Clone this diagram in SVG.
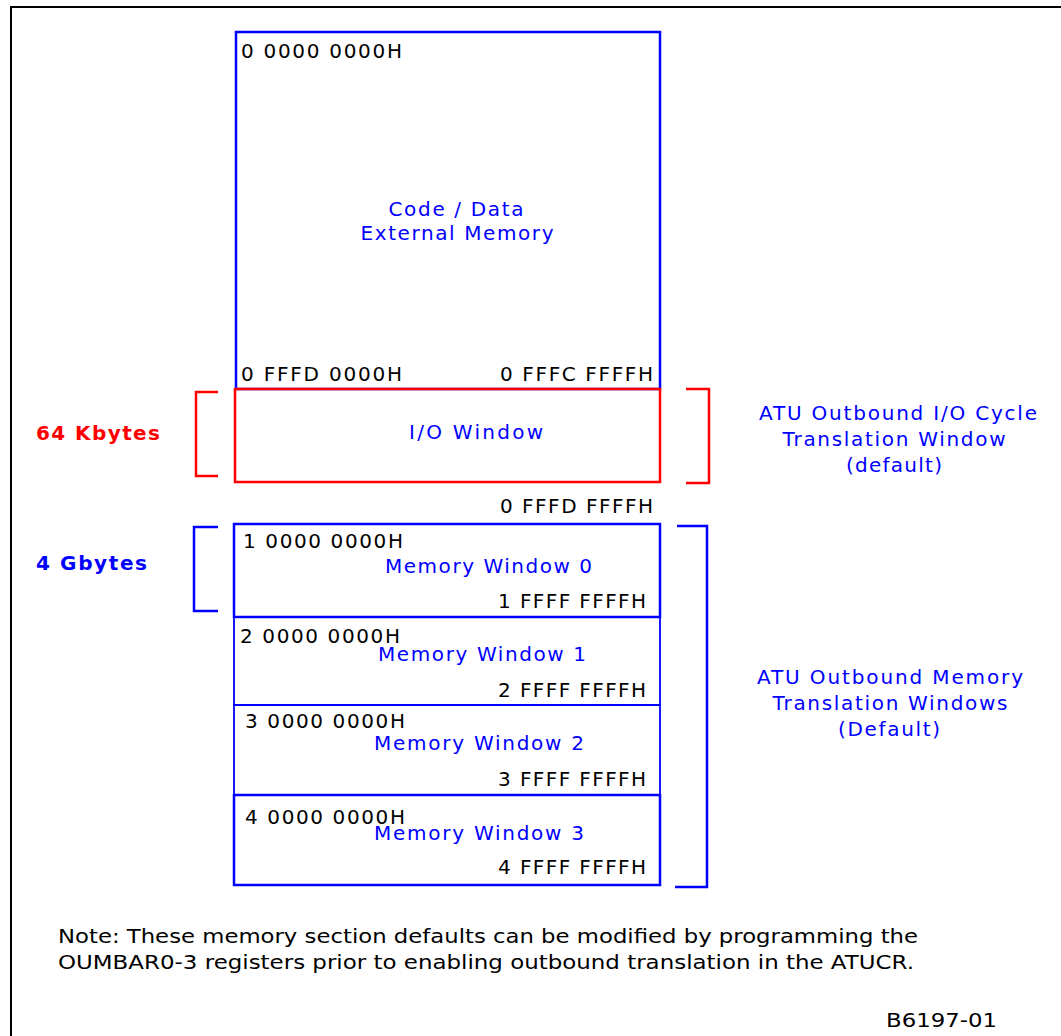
<svg xmlns="http://www.w3.org/2000/svg" width="1061" height="1036" viewBox="0 0 1061 1036">
<style>
text{font-family:"DejaVu Sans",Verdana,sans-serif;font-size:20px}
.k{fill:#000}
.b{fill:#0000ff}
.r{fill:#ff0000}
.bold{font-weight:bold}
.m{text-anchor:middle}
.e{text-anchor:end}
.bs{fill:none;stroke:#0000ff;stroke-width:2.5}
.rs{fill:none;stroke:#ff0000;stroke-width:2.5}
.bt{fill:none;stroke:#0000ff;stroke-width:1.8}
</style>
<rect x="11" y="7" width="1100" height="1100" fill="#fff" stroke="#000" stroke-width="2"/>
<g id="code-data">
<rect class="bs" x="236" y="32" width="424" height="357"/>
<text class="k" x="241" y="58" textLength="161" lengthAdjust="spacing">0 0000 0000H</text>
<text class="b m" x="456" y="216" textLength="135" lengthAdjust="spacing">Code / Data</text>
<text class="b m" x="457" y="240" textLength="193" lengthAdjust="spacing">External Memory</text>
<text class="k" x="241" y="381" textLength="161" lengthAdjust="spacing">0 FFFD 0000H</text>
<text class="k e" x="653" y="381" textLength="153" lengthAdjust="spacing">0 FFFC FFFFH</text>
</g>
<g id="io-window">
<rect class="rs" x="235" y="389" width="425" height="93"/>
<text class="b m" x="476" y="439" textLength="134" lengthAdjust="spacing">I/O Window</text>
<text class="k e" x="653" y="513" textLength="153" lengthAdjust="spacing">0 FFFD FFFFH</text>
</g>
<g id="label-64k">
<text class="r bold" x="36" y="440" textLength="124" lengthAdjust="spacing">64 Kbytes</text>
</g>
<g id="label-io-atu">
<text class="b m" x="898" y="420" textLength="278" lengthAdjust="spacing">ATU Outbound I/O Cycle</text>
<text class="b m" x="894" y="446" textLength="223" lengthAdjust="spacing">Translation Window</text>
<text class="b m" x="894" y="472" textLength="96" lengthAdjust="spacing">(default)</text>
</g>
<g id="mem-window-0">
<rect class="bs" x="234" y="524" width="426" height="93"/>
<text class="k" x="243" y="548" textLength="160" lengthAdjust="spacing">1 0000 0000H</text>
<text class="b" x="385" y="573" textLength="207" lengthAdjust="spacing">Memory Window 0</text>
<text class="k e" x="646" y="608" textLength="148" lengthAdjust="spacing">1 FFFF FFFFH</text>
</g>
<g id="mem-window-1">
<rect class="bt" x="234" y="617" width="426" height="88"/>
<text class="k" x="240" y="643" textLength="160" lengthAdjust="spacing">2 0000 0000H</text>
<text class="b" x="378" y="661" textLength="208" lengthAdjust="spacing">Memory Window 1</text>
<text class="k e" x="646" y="697" textLength="148" lengthAdjust="spacing">2 FFFF FFFFH</text>
</g>
<g id="mem-window-2">
<rect class="bt" x="234" y="705" width="426" height="90"/>
<text class="k" x="245" y="728" textLength="160" lengthAdjust="spacing">3 0000 0000H</text>
<text class="b" x="374" y="750" textLength="210" lengthAdjust="spacing">Memory Window 2</text>
<text class="k e" x="646" y="786" textLength="148" lengthAdjust="spacing">3 FFFF FFFFH</text>
</g>
<g id="mem-window-3">
<rect class="bs" x="234" y="795" width="426" height="90"/>
<text class="k" x="245" y="824" textLength="160" lengthAdjust="spacing">4 0000 0000H</text>
<text class="b" x="374" y="840" textLength="210" lengthAdjust="spacing">Memory Window 3</text>
<text class="k e" x="646" y="874" textLength="148" lengthAdjust="spacing">4 FFFF FFFFH</text>
</g>
<g id="label-4g">
<text class="b bold" x="36" y="570" textLength="111" lengthAdjust="spacing">4 Gbytes</text>
</g>
<g id="label-mem-atu">
<text class="b m" x="890" y="684" textLength="266" lengthAdjust="spacing">ATU Outbound Memory</text>
<text class="b m" x="890" y="710" textLength="235" lengthAdjust="spacing">Translation Windows</text>
<text class="b m" x="889" y="736" textLength="102" lengthAdjust="spacing">(Default)</text>
</g>
<g id="connectors">
<polyline class="rs" points="218,392 196,392 196,476 218,476"/>
<polyline class="rs" points="686,389 709,389 709,483 686,483"/>
<polyline class="bs" points="218,527 194,527 194,611 218,611"/>
<polyline class="bs" points="677,526 707,526 707,887 675,887"/>
</g>
<g id="note">
<text class="k" x="58" y="943" textLength="860" lengthAdjust="spacingAndGlyphs">Note: These memory section defaults can be modified by programming the</text>
<text class="k" x="58" y="969" textLength="856" lengthAdjust="spacingAndGlyphs">OUMBAR0-3 registers prior to enabling outbound translation in the ATUCR.</text>
<text class="k" x="886" y="1027" textLength="111" lengthAdjust="spacingAndGlyphs">B6197-01</text>
</g>
</svg>
